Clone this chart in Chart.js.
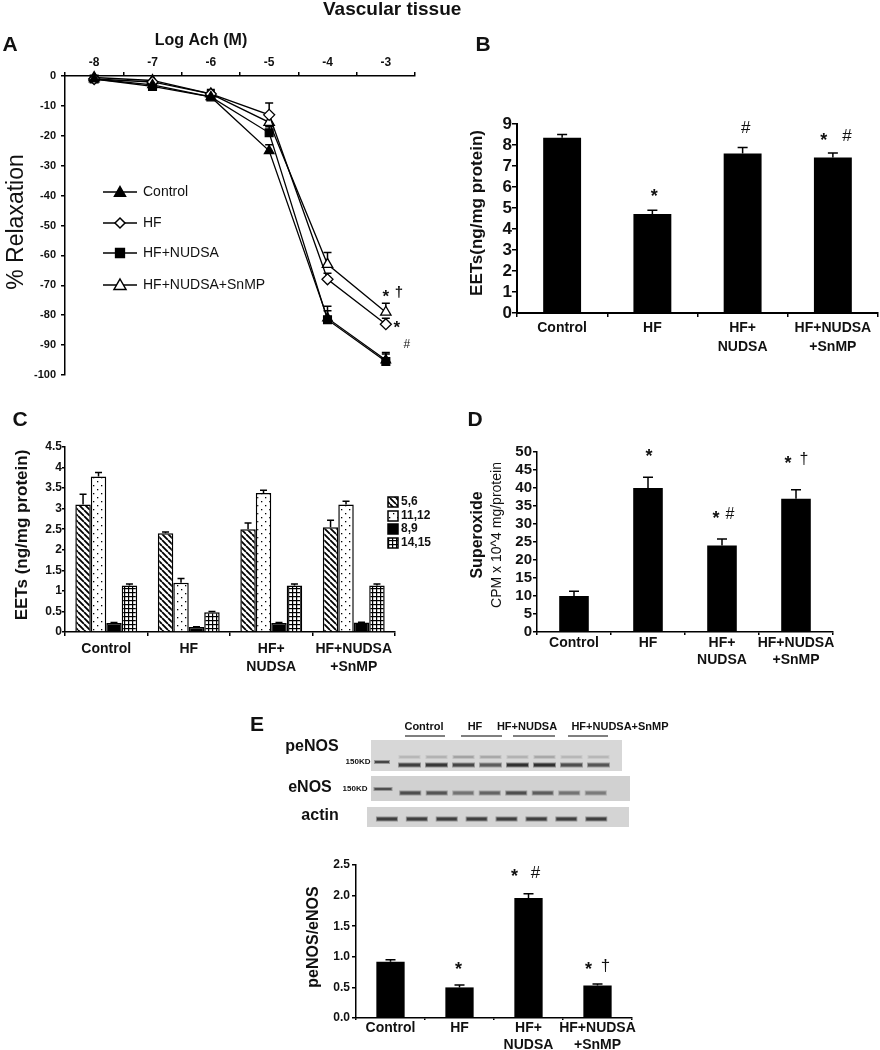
<!DOCTYPE html>
<html>
<head>
<meta charset="utf-8">
<script src="https://cdn.jsdelivr.net/npm/chart.js@4.4.0/dist/chart.umd.min.js"></script>
<style>
body { margin: 0; background: #fff; }
#page { position: relative; width: 880px; height: 1050px; }
#page canvas { position: absolute; left: 0; top: 0; }
</style>
</head>
<body>
<div id="page">
  <canvas id="chartA" width="880" height="1050"></canvas>
  <canvas id="chartB" width="880" height="1050"></canvas>
  <canvas id="chartC" width="880" height="1050"></canvas>
  <canvas id="chartD" width="880" height="1050"></canvas>
  <canvas id="chartE" width="880" height="1050"></canvas>
</div>
<script>
const FONT = "Arial, 'Liberation Sans', sans-serif";

// ---- data ----
const groupLabels = [['Control'], ['HF'], ['HF+', 'NUDSA'], ['HF+NUDSA', '+SnMP']];

// A: relaxation vs log Ach
const logAch = ['-8', '-7', '-6', '-5', '-4', '-3'];
const relaxControl = [-1, -3, -7, -25, -81, -95];
const relaxHF = [-1, -2, -6, -13, -68, -83];
const relaxNudsa = [-1, -3.5, -7, -19, -81.5, -95.5];
const relaxSnmp = [-0.5, -1.5, -6, -15.5, -63, -79];
const errControl = [0, 0, 1, 2, 4, 2];
const errHF = [0, 0, 1, 4, 2, 2];
const errNudsa = [0, 0, 2.5, 2, 3, 3];
const errSnmp = [0, 0, 1, 2, 4, 3];

// B: total EETs
const eetsTotal = [8.35, 4.72, 7.6, 7.4];
const eetsTotalErr = [0.15, 0.17, 0.28, 0.22];

// C: EET regioisomers
const isomerNames = ['5,6', '11,12', '8,9', '14,15'];
const eets56 = [3.1, 2.4, 2.5, 2.55];
const eets56Err = [0.25, 0.03, 0.15, 0.17];
const eets1112 = [3.78, 1.2, 3.38, 3.1];
const eets1112Err = [0.1, 0.1, 0.07, 0.08];
const eets89 = [0.22, 0.12, 0.22, 0.23];
const eets89Err = [0.01, 0.01, 0.01, 0.01];
const eets1415 = [1.13, 0.48, 1.13, 1.13];
const eets1415Err = [0.04, 0.02, 0.04, 0.04];

// D: superoxide
const superoxide = [10, 40, 24, 37];
const superoxideErr = [1.3, 3, 1.8, 2.5];

// E: peNOS/eNOS
const enosRatio = [0.92, 0.5, 1.96, 0.53];
const enosRatioErr = [0.03, 0.04, 0.07, 0.025];

// blot band darkness per lane (0..1)
const blotGroups = ['Control', 'HF', 'HF+NUDSA', 'HF+NUDSA+SnMP'];
const peNOSBands = [0.85, 0.9, 0.8, 0.65, 0.95, 0.95, 0.75, 0.7];
const peNOSUpper = [0.05, 0.08, 0.18, 0.15, 0.08, 0.15, 0.05, 0.05];
const eNOSBands = [0.75, 0.7, 0.5, 0.6, 0.75, 0.65, 0.5, 0.45];
const actinBands = [0.85, 0.85, 0.85, 0.85, 0.85, 0.85, 0.85, 0.85];

// ---- helpers ----
function font(size, bold) { return (bold ? 'bold ' : '') + size + 'px ' + FONT; }

function drawText(ctx, t, x, y, o) {
  ctx.save();
  ctx.font = font(o.size, o.bold);
  ctx.fillStyle = o.color || '#111';
  ctx.textAlign = o.align || 'center';
  ctx.textBaseline = 'middle';
  ctx.translate(x, y);
  if (o.rot) ctx.rotate(o.rot);
  ctx.fillText(t, 0, 0);
  ctx.restore();
}

function drawErrors(chart, cap) {
  const ctx = chart.ctx, ys = chart.scales.y;
  chart.data.datasets.forEach((ds, i) => {
    if (!ds.errors) return;
    chart.getDatasetMeta(i).data.forEach((el, j) => {
      const e = ds.errors[j];
      if (!e) return;
      const x = el.x, y0 = el.y, y1 = ys.getPixelForValue(ds.data[j] + e);
      ctx.save();
      ctx.strokeStyle = '#000';
      ctx.lineWidth = 1.5;
      ctx.beginPath();
      ctx.moveTo(x, y0); ctx.lineTo(x, y1);
      ctx.moveTo(x - cap / 2, y1); ctx.lineTo(x + cap / 2, y1);
      ctx.stroke();
      ctx.restore();
    });
  });
}

function drawMarks(chart, marks) {
  const xs = chart.scales.x, ys = chart.scales.y;
  marks.forEach(m => {
    const dy = m.t === '*' ? m.size * 0.22 : 0;
    drawText(chart.ctx, m.t, xs.getPixelForValue(m.i) + (m.dx || 0), ys.getPixelForValue(m.v) + dy,
      { size: m.size, bold: m.bold });
  });
}

function overlay(opts) {
  return {
    id: 'overlay',
    beforeDatasetsDraw(chart) { if (opts.errorsBelow) drawErrors(chart, opts.cap); },
    afterDatasetsDraw(chart) { if (!opts.errorsBelow) drawErrors(chart, opts.cap); },
    afterDraw(chart) {
      (opts.texts || []).forEach(t => drawText(chart.ctx, t.t, t.x, t.y, t));
      drawMarks(chart, opts.marks || []);
      if (opts.extra) opts.extra(chart);
    }
  };
}

function axisX(h, o) {
  return {
    type: 'category',
    offset: true,
    grid: { offset: true, drawOnChartArea: false, drawTicks: true, tickLength: o.tl, color: '#000', lineWidth: 1.5 },
    border: { color: '#000', width: o.bw || 1.5 },
    ticks: { font: { family: FONT, size: o.fs, weight: 'bold', lineHeight: o.lh || 1.2 }, color: '#111',
      padding: o.pad, maxRotation: 0, autoSkip: false },
    afterFit: s => { s.height = h; }
  };
}

function axisY(w, o) {
  return {
    min: o.min, max: o.max,
    grid: { drawOnChartArea: false, drawTicks: true, tickLength: o.tl, color: '#000', lineWidth: 1.5 },
    border: { color: '#000', width: o.bw || 1.5 },
    ticks: { stepSize: o.step, autoSkip: false, font: { family: FONT, size: o.fs, weight: 'bold' }, color: '#111',
      padding: o.pad, callback: o.cb },
    afterFit: s => { s.width = w; }
  };
}

const baseOpts = {
  responsive: false,
  animation: false,
  events: [],
};

// ---- A ----
function marker(ctx, style, fill, x, y, r) {
  ctx.save();
  ctx.fillStyle = fill; ctx.strokeStyle = '#000'; ctx.lineWidth = 1.5;
  ctx.beginPath();
  if (style === 'triangle') {
    ctx.moveTo(x, y - r); ctx.lineTo(x + r, y + r * 0.75); ctx.lineTo(x - r, y + r * 0.75); ctx.closePath();
  } else if (style === 'rectRot') {
    ctx.moveTo(x, y - r); ctx.lineTo(x + r, y); ctx.lineTo(x, y + r); ctx.lineTo(x - r, y); ctx.closePath();
  } else {
    ctx.rect(x - r * 0.8, y - r * 0.8, r * 1.6, r * 1.6);
  }
  ctx.fill(); ctx.stroke();
  ctx.restore();
}

const seriesA = [
  { label: 'Control', data: relaxControl, errors: errControl, style: 'triangle', fill: '#000', r: 5.5 },
  { label: 'HF', data: relaxHF, errors: errHF, style: 'rectRot', fill: '#fff', r: 5 },
  { label: 'HF+NUDSA', data: relaxNudsa, errors: errNudsa, style: 'rect', fill: '#000', r: 5.5 },
  { label: 'HF+NUDSA+SnMP', data: relaxSnmp, errors: errSnmp, style: 'triangle', fill: '#fff', r: 6 },
];
const legendRowsA = [192, 223, 253, 285];

new Chart(document.getElementById('chartA'), {
  type: 'line',
  data: {
    labels: logAch,
    datasets: seriesA.map(s => ({
      label: s.label, data: s.data, errors: s.errors,
      borderColor: '#000', borderWidth: 1.3, tension: 0, clip: false,
      pointStyle: s.style, pointRadius: s.style === 'rectRot' ? 5.5 : s.r, pointBackgroundColor: s.fill,
      pointBorderColor: '#000', pointBorderWidth: 1.3
    }))
  },
  options: {
    ...baseOpts,
    layout: { padding: { left: 20, top: 46, right: 465, bottom: 675 } },
    plugins: { legend: { display: false }, tooltip: { enabled: false } },
    scales: {
      x: Object.assign(axisX(30, { tl: 4, fs: 12, pad: 2 }), { position: 'top' }),
      y: axisY(45, { min: -100, max: 0, step: 10, tl: 4, fs: 11, pad: 5 })
    }
  },
  plugins: [overlay({
    errorsBelow: true, cap: 8,
    texts: [
      { t: 'Vascular tissue', x: 323, y: 10, size: 19, bold: true, align: 'left' },
      { t: 'A', x: 10, y: 45, size: 21, bold: true },
      { t: 'Log Ach (M)', x: 201, y: 41, size: 16, bold: true },
      { t: '% Relaxation', x: 17, y: 222, size: 23, rot: -Math.PI / 2 }
    ],
    marks: [
      { i: 5, v: -72.6, t: '*', dx: 0, size: 17, bold: true },
      { i: 5, v: -72.6, t: '†', dx: 13, size: 15, bold: true },
      { i: 5, v: -83.3, t: '*', dx: 11, size: 17, bold: true },
      { i: 5, v: -90, t: '#', dx: 21, size: 12 }
    ],
    extra(chart) {
      const ctx = chart.ctx;
      seriesA.forEach((s, k) => {
        const y = legendRowsA[k];
        ctx.save();
        ctx.strokeStyle = '#000'; ctx.lineWidth = 1.5;
        ctx.beginPath(); ctx.moveTo(103, y); ctx.lineTo(137, y); ctx.stroke();
        ctx.restore();
        marker(ctx, s.style, s.fill, 120, y, s.r);
        drawText(ctx, s.label, 143, y, { size: 14, align: 'left' });
      });
    }
  })]
});

// ---- B ----
new Chart(document.getElementById('chartB'), {
  type: 'bar',
  data: {
    labels: groupLabels,
    datasets: [{ data: eetsTotal, errors: eetsTotalErr, backgroundColor: '#000',
      categoryPercentage: 1, barPercentage: 0.42 }]
  },
  options: {
    ...baseOpts,
    layout: { padding: { left: 477, top: 124, right: 2, bottom: 692 } },
    plugins: { legend: { display: false }, tooltip: { enabled: false } },
    scales: {
      x: axisX(45, { tl: 4, fs: 14, pad: 2, lh: 1.35, bw: 2 }),
      y: axisY(40, { min: 0, max: 9, step: 1, tl: 5, fs: 17, pad: 0, bw: 2 })
    }
  },
  plugins: [overlay({
    cap: 10,
    texts: [
      { t: 'B', x: 483, y: 45, size: 21, bold: true },
      { t: 'EETs(ng/mg protein)', x: 477, y: 213, size: 17, bold: true, rot: -Math.PI / 2 }
    ],
    marks: [
      { i: 1, v: 5.7, t: '*', dx: 2, size: 18, bold: true },
      { i: 2, v: 8.8, t: '#', dx: 3, size: 17 },
      { i: 3, v: 8.4, t: '*', dx: -9, size: 18, bold: true },
      { i: 3, v: 8.4, t: '#', dx: 14, size: 17 }
    ]
  })]
});

// ---- C ----
function tile(size, paint) {
  const c = document.createElement('canvas');
  c.width = c.height = size;
  const g = c.getContext('2d');
  g.fillStyle = '#fff'; g.fillRect(0, 0, size, size);
  g.fillStyle = '#000'; g.strokeStyle = '#000';
  paint(g, size);
  return document.createElement('canvas').getContext('2d').createPattern(c, 'repeat');
}
const patHatch = tile(6, (g, n) => {
  g.lineWidth = 1.8;
  g.beginPath();
  [-n, 0, n].forEach(k => { g.moveTo(k, 0); g.lineTo(k + n, n); });
  g.stroke();
});
const patDots = tile(8, g => { g.fillRect(1, 1, 1.3, 1.3); g.fillRect(5, 5, 1.3, 1.3); });
const patGrid = tile(4, g => { g.fillRect(0, 0, 4, 1.2); g.fillRect(0, 0, 1.2, 4); });
const isomerFills = [patHatch, patDots, '#000', patGrid];
const isomerData = [eets56, eets1112, eets89, eets1415];
const isomerErr = [eets56Err, eets1112Err, eets89Err, eets1415Err];

new Chart(document.getElementById('chartC'), {
  type: 'bar',
  data: {
    labels: groupLabels,
    datasets: isomerNames.map((n, k) => ({
      label: n, data: isomerData[k], errors: isomerErr[k], backgroundColor: isomerFills[k],
      borderColor: '#000', borderWidth: 1.5, categoryPercentage: 0.75, barPercentage: 1
    }))
  },
  options: {
    ...baseOpts,
    layout: { padding: { left: 35, top: 447, right: 485, bottom: 373 } },
    plugins: { legend: { display: false }, tooltip: { enabled: false } },
    scales: {
      x: axisX(45, { tl: 4, fs: 14, pad: 4, lh: 1.3 }),
      y: axisY(30, { min: 0, max: 4.5, step: 0.5, tl: 3, fs: 12, pad: 0 })
    }
  },
  plugins: [overlay({
    cap: 7,
    texts: [
      { t: 'C', x: 20, y: 420, size: 21, bold: true },
      { t: 'EETs (ng/mg protein)', x: 22, y: 535, size: 17, bold: true, rot: -Math.PI / 2 }
    ],
    extra(chart) {
      const ctx = chart.ctx;
      [502, 516, 529, 543].forEach((y, k) => {
        ctx.save();
        ctx.fillStyle = isomerFills[k];
        ctx.fillRect(388, y - 5, 10, 10);
        ctx.strokeStyle = '#000'; ctx.lineWidth = 1.5;
        ctx.strokeRect(388, y - 5, 10, 10);
        ctx.restore();
        drawText(ctx, isomerNames[k], 401, y, { size: 12, bold: true, align: 'left' });
      });
    }
  })]
});

// ---- D ----
new Chart(document.getElementById('chartD'), {
  type: 'bar',
  data: {
    labels: groupLabels,
    datasets: [{ data: superoxide, errors: superoxideErr, backgroundColor: '#000',
      categoryPercentage: 1, barPercentage: 0.4 }]
  },
  options: {
    ...baseOpts,
    layout: { padding: { left: 507, top: 452, right: 47, bottom: 373 } },
    plugins: { legend: { display: false }, tooltip: { enabled: false } },
    scales: {
      x: axisX(45, { tl: 3, fs: 14, pad: 0, lh: 1.2 }),
      y: axisY(30, { min: 0, max: 50, step: 5, tl: 4, fs: 15, pad: 1 })
    }
  },
  plugins: [overlay({
    cap: 10,
    texts: [
      { t: 'D', x: 475, y: 420, size: 21, bold: true },
      { t: 'Superoxide', x: 478, y: 535, size: 16, bold: true, rot: -Math.PI / 2 },
      { t: 'CPM x 10^4 mg/protein', x: 497, y: 535, size: 14, rot: -Math.PI / 2 }
    ],
    marks: [
      { i: 1, v: 49.7, t: '*', dx: 1, size: 18, bold: true },
      { i: 2, v: 32.5, t: '*', dx: -6, size: 18, bold: true },
      { i: 2, v: 32.5, t: '#', dx: 8, size: 16 },
      { i: 3, v: 47.8, t: '*', dx: -8, size: 18, bold: true },
      { i: 3, v: 47.8, t: '†', dx: 8, size: 16 }
    ]
  })]
});

// ---- E ----
function drawBlot(ctx, box, bg, lane0, pitch, laneW, bandY, bandH, bands) {
  ctx.save();
  ctx.fillStyle = bg;
  ctx.fillRect(box[0], box[1], box[2] - box[0], box[3] - box[1]);
  bands.forEach((d, k) => {
    const cx = lane0 + pitch * (k + 0.5);
    const g = Math.round(40 + (1 - d) * 150);
    ctx.fillStyle = 'rgba(' + g + ',' + g + ',' + g + ',0.45)';
    ctx.fillRect(cx - laneW / 2 - 1, bandY - bandH / 2 - 1, laneW + 2, bandH + 2);
    ctx.fillStyle = 'rgb(' + g + ',' + g + ',' + g + ')';
    ctx.fillRect(cx - laneW / 2, bandY - bandH / 2, laneW, bandH);
  });
  ctx.restore();
}

new Chart(document.getElementById('chartE'), {
  type: 'bar',
  data: {
    labels: groupLabels,
    datasets: [{ data: enosRatio, errors: enosRatioErr, backgroundColor: '#000',
      categoryPercentage: 1, barPercentage: 0.41 }]
  },
  options: {
    ...baseOpts,
    layout: { padding: { left: 326, top: 865, right: 248, bottom: 0 } },
    plugins: { legend: { display: false }, tooltip: { enabled: false } },
    scales: {
      x: axisX(32, { tl: 2, fs: 14, pad: 0, lh: 1.2 }),
      y: axisY(30, { min: 0, max: 2.5, step: 0.5, tl: 4, fs: 12, pad: 2, cb: v => v.toFixed(1) })
    }
  },
  plugins: [overlay({
    cap: 10,
    texts: [
      { t: 'E', x: 257, y: 725, size: 21, bold: true },
      { t: 'peNOS/eNOS', x: 314, y: 937, size: 16, bold: true, rot: -Math.PI / 2 },
      { t: 'peNOS', x: 312, y: 747, size: 16, bold: true },
      { t: 'eNOS', x: 310, y: 788, size: 16, bold: true },
      { t: 'actin', x: 320, y: 816, size: 16, bold: true },
      { t: '150KD', x: 358, y: 762, size: 8, bold: true },
      { t: '150KD', x: 355, y: 789, size: 8, bold: true }
    ],
    marks: [
      { i: 1, v: 0.85, t: '*', dx: -1, size: 18, bold: true },
      { i: 2, v: 2.37, t: '*', dx: -14, size: 18, bold: true },
      { i: 2, v: 2.37, t: '#', dx: 7, size: 17 },
      { i: 3, v: 0.85, t: '*', dx: -9, size: 18, bold: true },
      { i: 3, v: 0.85, t: '†', dx: 8, size: 17 }
    ],
    extra(chart) {
      const ctx = chart.ctx;
      // group headers
      const heads = [[424, 405, 445], [475, 461, 502], [527, 513, 555], [620, 568, 608]];
      blotGroups.forEach((g, k) => {
        drawText(ctx, g, heads[k][0], 727, { size: 11, bold: true });
        ctx.save();
        ctx.strokeStyle = '#000'; ctx.lineWidth = 1.2;
        ctx.beginPath(); ctx.moveTo(heads[k][1], 736); ctx.lineTo(heads[k][2], 736); ctx.stroke();
        ctx.restore();
      });
      // peNOS blot
      drawBlot(ctx, [371, 740, 622, 771], '#d7d7d7', 396, 27, 20, 757, 2, peNOSUpper);
      drawBlot(ctx, [371, 740, 622, 771], 'rgba(0,0,0,0)', 396, 27, 21, 765, 3, peNOSBands);
      drawBlot(ctx, [371, 740, 371, 740], '#000', 372, 20, 14, 762, 2, [0.8]);
      // eNOS blot
      drawBlot(ctx, [371, 776, 630, 801], '#d1d1d1', 397, 26.5, 20, 793, 3, eNOSBands);
      drawBlot(ctx, [371, 776, 371, 776], '#000', 373, 20, 17, 789, 2, [0.75]);
      // actin blot
      drawBlot(ctx, [367, 807, 629, 827], '#d4d4d4', 372, 29.9, 20, 819, 3, actinBands);
    }
  })]
});
</script>
</body>
</html>
